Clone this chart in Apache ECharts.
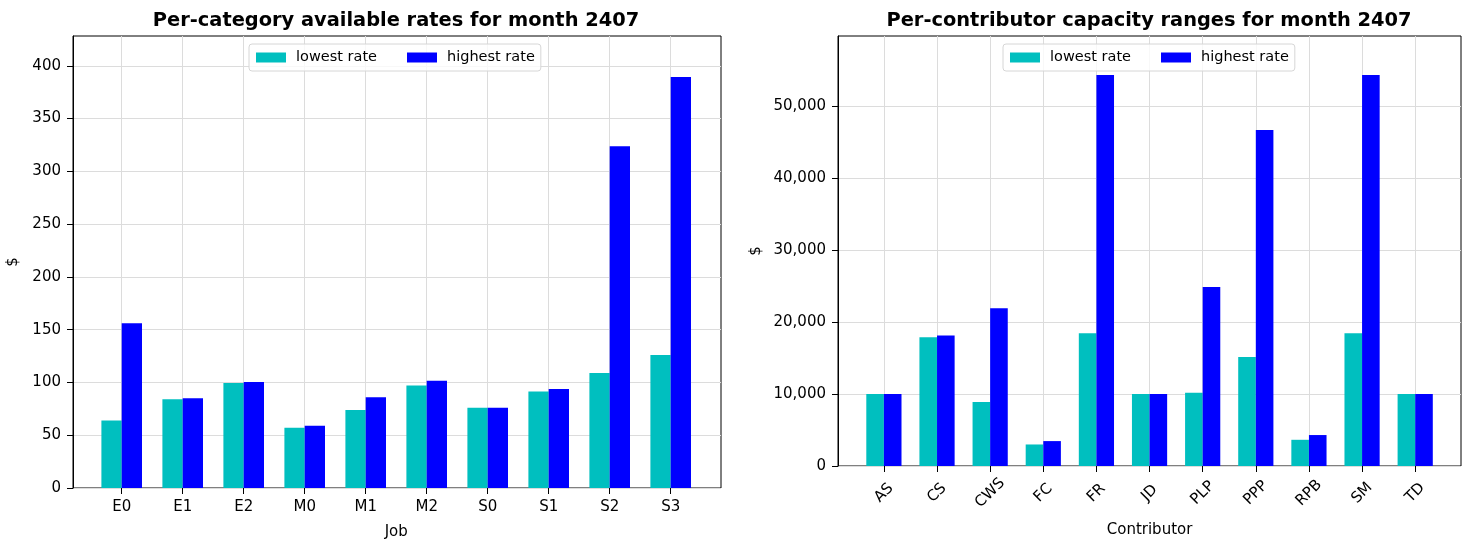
<!DOCTYPE html>
<html>
<head>
<meta charset="utf-8">
<script src="https://cdn.jsdelivr.net/npm/echarts@6/dist/echarts.min.js"></script>
<style>
html,body{margin:0;padding:0;background:#fff;}
#chart{width:1472px;height:540px;}
</style>
</head>
<body>
<div id="chart"></div>
<script>
// ---- data ----
const jobs = ['E0', 'E1', 'E2', 'M0', 'M1', 'M2', 'S0', 'S1', 'S2', 'S3'];
const jobLowest = [64, 84, 99.5, 57, 74, 97, 76, 91.5, 109, 126];
const jobHighest = [156, 85, 100.5, 59, 86, 101.5, 76, 93.7, 323.7, 389.3];
const jobTicks = [0, 50, 100, 150, 200, 250, 300, 350, 400];

const contributors = ['AS', 'CS', 'CWS', 'FC', 'FR', 'JD', 'PLP', 'PPP', 'RPB', 'SM', 'TD'];
const contLowest = [10000, 17900, 8880, 2990, 18450, 10000, 10190, 15140, 3640, 18450, 10000];
const contHighest = [10000, 18130, 21900, 3460, 54300, 10000, 24880, 46660, 4300, 54300, 10000];
const contTicks = [0, 10000, 20000, 30000, 40000, 50000];

const seriesNames = ['lowest rate', 'highest rate'];
const colors = ['#00bfbf', '#0000ff'];

// ---- chart ----
const FONT = 'DejaVu Sans';
const txt = {fontFamily: FONT, color: '#000'};
const leftMax = Math.max(...jobHighest, ...jobLowest) * 1.1;
const rightMax = Math.max(...contHighest, ...contLowest) * 1.1;

const fmtThousands = v => Math.round(v).toLocaleString('en-US');

function frameGrid(left, top, width, height) {
  return {left, top, width, height, show: true, borderColor: '#000', borderWidth: 1,
          backgroundColor: 'transparent', containLabel: false, outerBoundsMode: 'none'};
}
function innerGrid(left, top, width, height) {
  return {left, top, width, height, show: false, containLabel: false, outerBoundsMode: 'none'};
}

const chart = echarts.init(document.getElementById('chart'), null, {renderer: 'canvas'});

const legendCommon = {
  top: 44,
  orient: 'horizontal',
  data: seriesNames,
  itemWidth: 30,
  itemHeight: 10,
  itemGap: 30,
  padding: [6, 6, 6, 7],
  borderColor: '#d6d6d6',
  borderWidth: 1,
  borderRadius: 3,
  backgroundColor: 'rgba(255,255,255,0.8)',
  icon: 'rect',
  textStyle: {fontFamily: FONT, fontSize: 14.5, color: '#000', padding: [0, 0, 0, 5]}
};

const splitStyle = {show: true, lineStyle: {color: '#dcdcdc', width: 1}};
const tickStyle = {show: true, length: 6, lineStyle: {color: '#000'}};

const option = {
  animation: false,
  color: colors,
  title: [
    {text: 'Per-category available rates for month 2407', left: 391, top: 6, textAlign: 'center',
     textStyle: {fontFamily: FONT, fontWeight: 'bold', fontSize: 19.4, color: '#000'}},
    {text: 'Per-contributor capacity ranges for month 2407', left: 1144, top: 6, textAlign: 'center',
     textStyle: {fontFamily: FONT, fontWeight: 'bold', fontSize: 19.4, color: '#000'}}
  ],
  legend: [
    Object.assign({left: 249}, legendCommon),
    Object.assign({left: 1003}, legendCommon)
  ],
  grid: [
    frameGrid(73, 36, 648, 452),
    innerGrid(121.7, 36, 549, 452),
    frameGrid(838, 36, 623, 430),
    innerGrid(883.9, 36, 531.3, 430)
  ],
  xAxis: [
    {gridIndex: 0, type: 'value', min: 0, max: 1, show: false},
    {gridIndex: 1, type: 'category', data: jobs, boundaryGap: false,
     axisLine: {show: false},
     axisTick: tickStyle,
     splitLine: splitStyle,
     axisLabel: Object.assign({fontSize: 15, margin: 12}, txt),
     name: 'Job', nameLocation: 'middle', nameGap: 37,
     nameTextStyle: Object.assign({fontSize: 15}, txt)},
    {gridIndex: 2, type: 'value', min: 0, max: 1, show: false},
    {gridIndex: 3, type: 'category', data: contributors, boundaryGap: false,
     axisLine: {show: false},
     axisTick: tickStyle,
     splitLine: splitStyle,
     axisLabel: Object.assign({fontSize: 15, margin: 27, rotate: 45, align: 'center', verticalAlign: 'middle'}, txt),
     name: 'Contributor', nameLocation: 'middle', nameGap: 57,
     nameTextStyle: Object.assign({fontSize: 15}, txt)}
  ],
  yAxis: [
    {gridIndex: 0, type: 'value', min: 0, max: leftMax,
     axisLine: {show: true, lineStyle: {color: '#000'}},
     axisTick: Object.assign({customValues: jobTicks}, tickStyle),
     axisLabel: Object.assign({fontSize: 15, margin: 12, customValues: jobTicks}, txt),
     splitLine: splitStyle,
     name: '$', nameLocation: 'middle', nameGap: 52, nameRotate: 90,
     nameTextStyle: Object.assign({fontSize: 15}, txt)},
    {gridIndex: 1, type: 'value', min: 0, max: leftMax, show: false},
    {gridIndex: 2, type: 'value', min: 0, max: rightMax,
     axisLine: {show: true, lineStyle: {color: '#000'}},
     axisTick: Object.assign({customValues: contTicks}, tickStyle),
     axisLabel: Object.assign({fontSize: 15, margin: 12, customValues: contTicks, formatter: fmtThousands}, txt),
     splitLine: splitStyle,
     name: '$', nameLocation: 'middle', nameGap: 74, nameRotate: 90,
     nameTextStyle: Object.assign({fontSize: 15}, txt)},
    {gridIndex: 3, type: 'value', min: 0, max: rightMax, show: false}
  ],
  series: [
    {name: seriesNames[0], type: 'bar', xAxisIndex: 1, yAxisIndex: 1, data: jobLowest,
     barWidth: 20.3, barGap: '0%', clip: false, itemStyle: {color: colors[0]}},
    {name: seriesNames[1], type: 'bar', xAxisIndex: 1, yAxisIndex: 1, data: jobHighest,
     barWidth: 20.3, barGap: '0%', clip: false, itemStyle: {color: colors[1]}},
    {name: seriesNames[0], type: 'bar', xAxisIndex: 3, yAxisIndex: 3, data: contLowest,
     barWidth: 17.6, barGap: '0%', clip: false, itemStyle: {color: colors[0]}},
    {name: seriesNames[1], type: 'bar', xAxisIndex: 3, yAxisIndex: 3, data: contHighest,
     barWidth: 17.6, barGap: '0%', clip: false, itemStyle: {color: colors[1]}}
  ]
};
chart.setOption(option);
</script>
</body>
</html>
